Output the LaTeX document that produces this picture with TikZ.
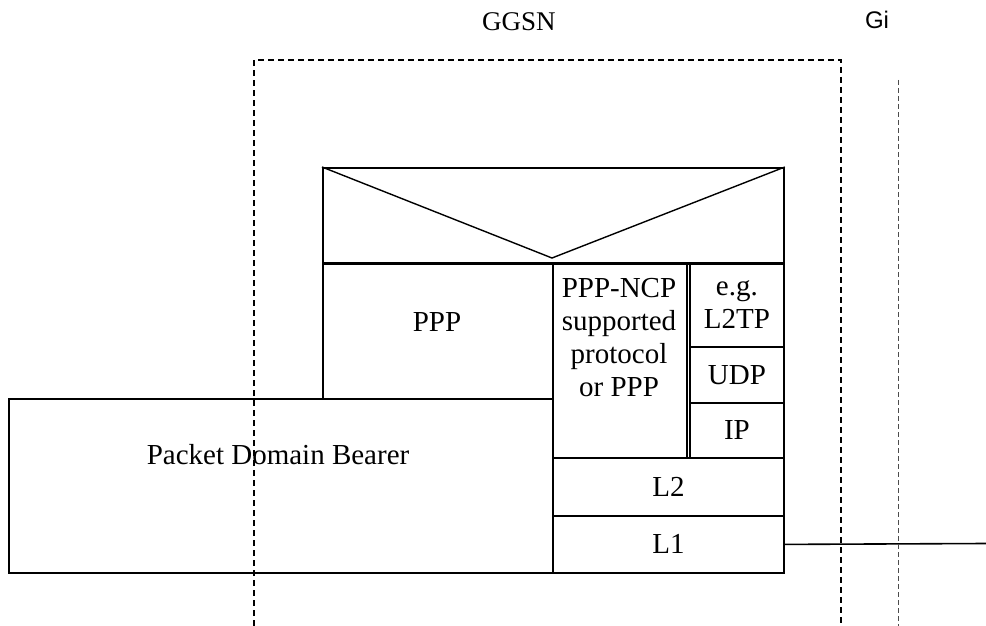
\documentclass[tikz,border=0pt]{standalone}
\usepackage{fontspec}
\setmainfont{Liberation Serif}
\newfontfamily\arialfont{Liberation Sans}
\begin{document}
\begin{tikzpicture}[x=1pt,y=-1pt,
  box/.style={draw,line width=1.8pt,inner sep=0pt,anchor=north west,align=center,
    font=\fontsize{29}{33}\selectfont},
  lbl/.style={inner sep=0pt,align=center,font=\fontsize{29}{33}\selectfont},
  border/.style={line width=1.8pt,dash pattern=on 6pt off 4pt},
  iface/.style={line width=0.9pt,gray!60!black,dash pattern=on 5pt off 3pt}]
\useasboundingbox (0,0) rectangle (986,626);
% labels
\node[lbl,font=\fontsize{27}{30}\selectfont] (ggsn) at (519,22) {GGSN};
\node[lbl,font=\arialfont\fontsize{24}{28}\selectfont] (gi) at (877,20) {Gi};
% boxes
\node[box,minimum width=461pt,minimum height=95pt] (top) at (322,167) {};
\node[box,minimum width=230pt,minimum height=136pt] (ppp) at (322,262) {};
\node[lbl] (ppptext) at (437,322) {PPP};
\node[box,minimum width=134pt,minimum height=195pt] (ncp) at (552,262) {};
\node[lbl] (ncptext) at (619,338) {PPP-NCP\\supported\\protocol\\or PPP};
\node[box,minimum width=94pt,minimum height=84pt] (l2tp) at (689,262) {e.g.\\L2TP};
\node[box,minimum width=94pt,minimum height=56pt] (udp) at (689,346) {UDP};
\node[box,minimum width=94pt,minimum height=55pt] (ip) at (689,402) {IP};
\node[box,minimum width=231pt,minimum height=58pt] (ltwo) at (552,457) {L2};
\node[box,minimum width=231pt,minimum height=57pt] (lone) at (552,515) {L1};
\node[box,minimum width=544pt,minimum height=174pt] (pdb) at (8,398) {};
\node[lbl] (pdbtext) at (278,455) {Packet Domain Bearer};
% V in top box
\coordinate (vb) at (552,258);
\draw[line width=1.4pt] (top.north west) -- (vb) -- (top.north east);
\draw[line width=3pt] (top.south west) -- (top.south east);
% Gi link
\coordinate (giend) at (986,543.5);
\draw[line width=1.6pt] (lone.east) -- (giend);
% GGSN border
\coordinate (b1) at (254,626);
\coordinate (b2) at (254,60);
\coordinate (b3) at (841,60);
\coordinate (b4) at (841,626);
\draw[border] (b1) -- (b2) -- (b3) -- (b4);
% Gi reference line
\coordinate (g1) at (898,80);
\coordinate (g2) at (898,626);
\draw[iface] (g1) -- (g2);
\end{tikzpicture}
\end{document}
